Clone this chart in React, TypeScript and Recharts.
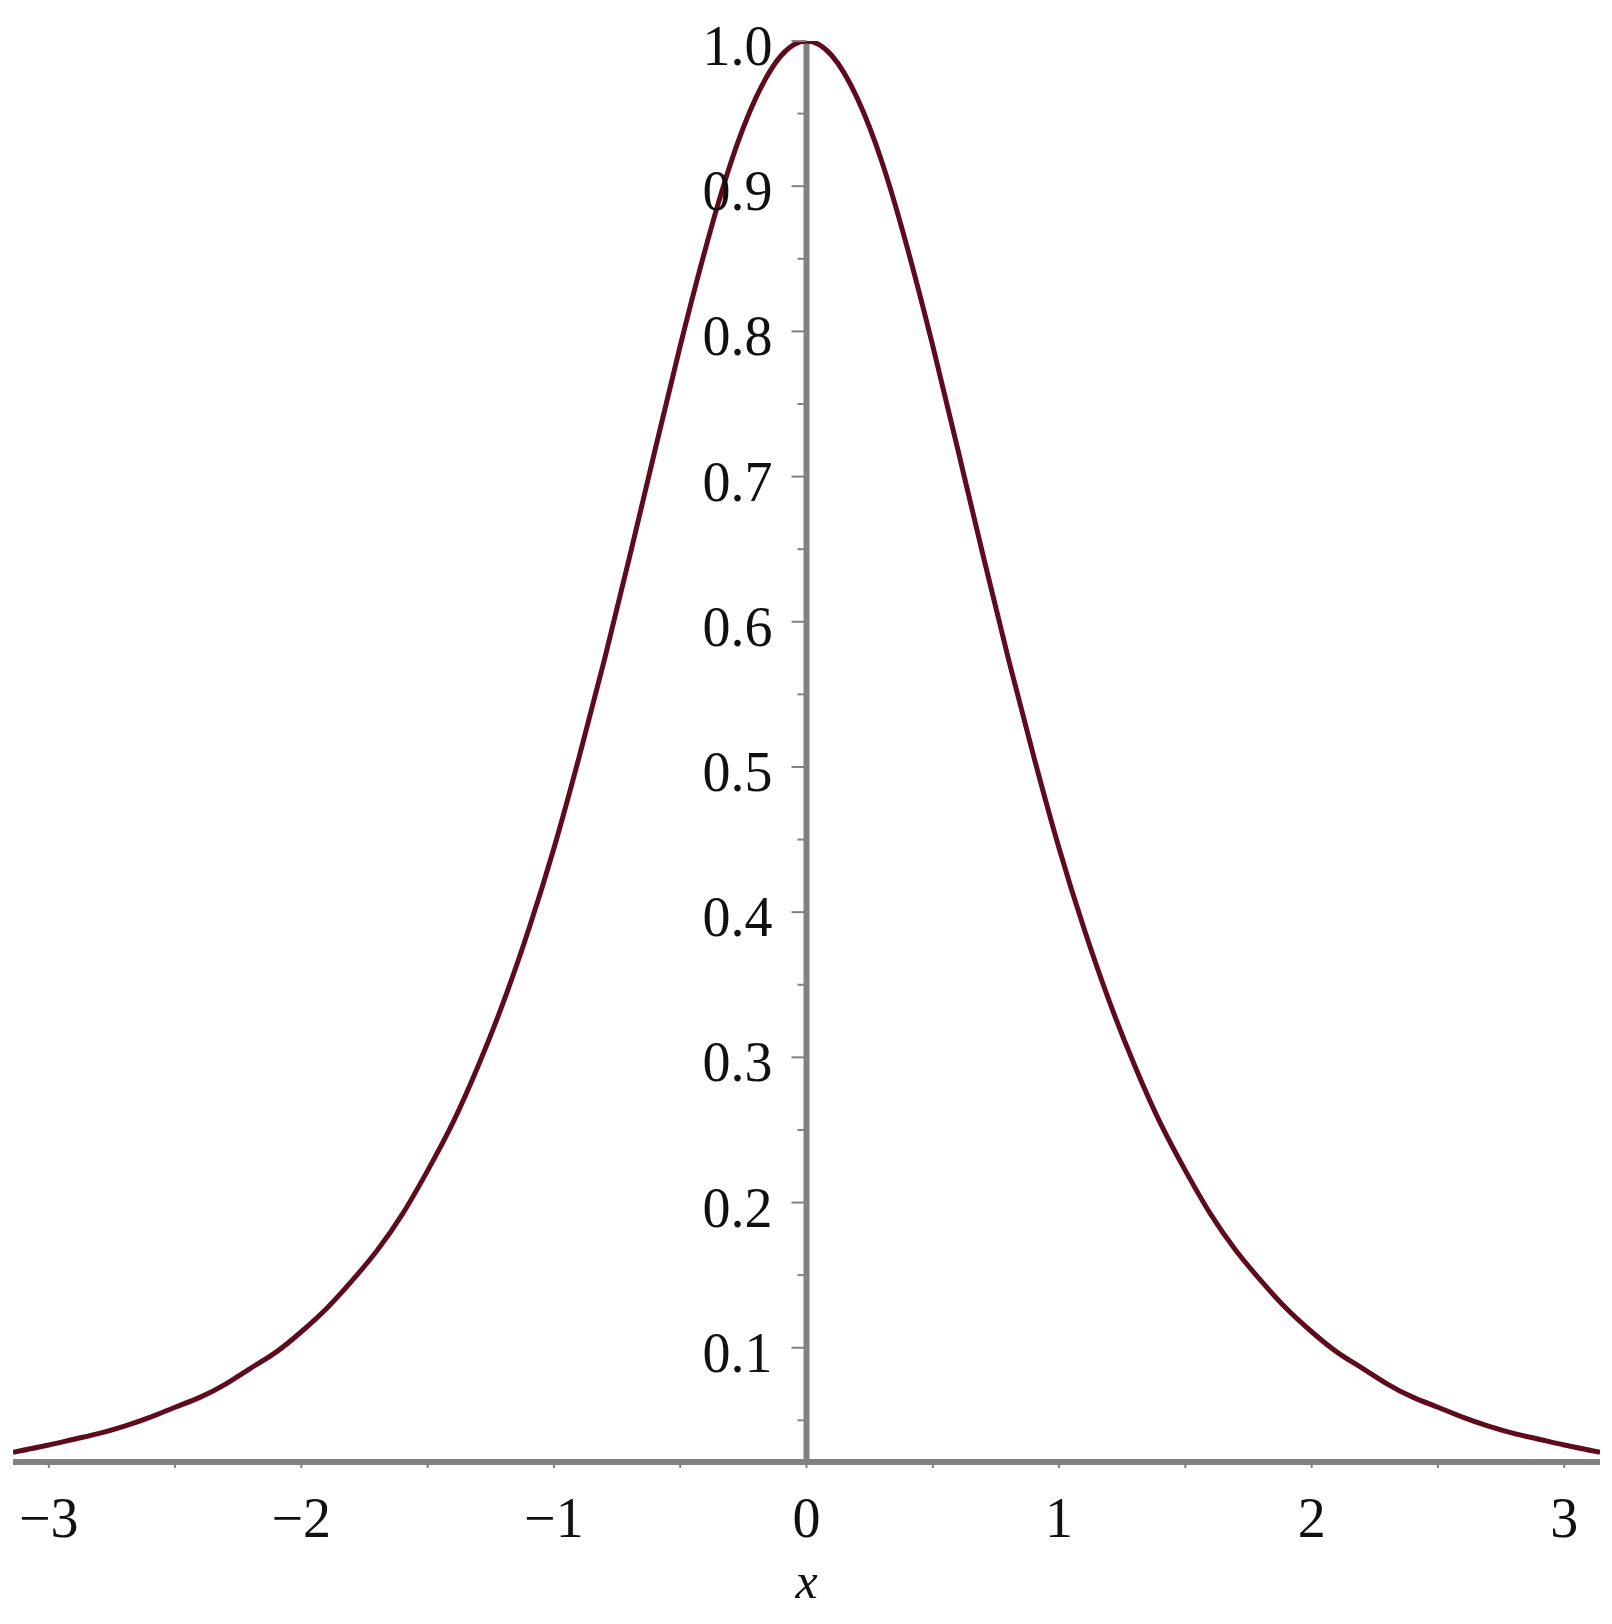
import React from "react";
import { LineChart, Line, XAxis, YAxis, ReferenceLine, Label } from "recharts";

// ---- data ----
const xValues = [
  -3.1416, -3.0, -2.9, -2.8, -2.7, -2.6, -2.5, -2.4, -2.3, -2.2, -2.1, -2.0, -1.9, -1.8, -1.7, -1.6,
  -1.5, -1.4, -1.3, -1.2, -1.1, -1.0, -0.9, -0.8, -0.7, -0.6, -0.5, -0.4, -0.3, -0.2, -0.1,
  0.0,
  0.1, 0.2, 0.3, 0.4, 0.5, 0.6, 0.7, 0.8, 0.9, 1.0, 1.1, 1.2, 1.3, 1.4, 1.5,
  1.6, 1.7, 1.8, 1.9, 2.0, 2.1, 2.2, 2.3, 2.4, 2.5, 2.6, 2.7, 2.8, 2.9, 3.0, 3.1416,
];
const yValues = [
  0.028, 0.033, 0.037, 0.041, 0.046, 0.052, 0.059, 0.066, 0.075, 0.086, 0.097, 0.111, 0.127, 0.146, 0.167, 0.192,
  0.222, 0.255, 0.294, 0.338, 0.388, 0.444, 0.507, 0.574, 0.645, 0.718, 0.790, 0.857, 0.916, 0.961, 0.990,
  1.0,
  0.990, 0.961, 0.916, 0.857, 0.790, 0.718, 0.645, 0.574, 0.507, 0.444, 0.388, 0.338, 0.294, 0.255, 0.222,
  0.192, 0.167, 0.146, 0.127, 0.111, 0.097, 0.086, 0.075, 0.066, 0.059, 0.052, 0.046, 0.041, 0.037, 0.033, 0.028,
];
const xTicks = [-3, -2.5, -2, -1.5, -1, -0.5, 0, 0.5, 1, 1.5, 2, 2.5, 3];
const xTickLabels: Record<string, string> = {
  "-3": "\u22123", "-2": "\u22122", "-1": "\u22121", "0": "0", "1": "1", "2": "2", "3": "3",
};
const yTicks = [0.05, 0.1, 0.15, 0.2, 0.25, 0.3, 0.35, 0.4, 0.45, 0.5, 0.55, 0.6, 0.65, 0.7, 0.75, 0.8, 0.85, 0.9, 0.95, 1.0];
const yTickLabels: Record<string, string> = {
  "0.1": "0.1", "0.2": "0.2", "0.3": "0.3", "0.4": "0.4", "0.5": "0.5",
  "0.6": "0.6", "0.7": "0.7", "0.8": "0.8", "0.9": "0.9", "1": "1.0",
};
const xDomain: [number, number] = [-Math.PI, Math.PI];
const yDomain: [number, number] = [0.0213, 1.0];

const data = xValues.map((x, i) => ({ x, y: yValues[i] }));

// ---- layout ----
const W = 1612;
const H = 1624;
const X_AXIS_H = 160;
const Y_AXIS_W = 1;
const MARGIN = { top: 41, right: 12, bottom: 2, left: 12 };
const PLOT_LEFT = MARGIN.left + Y_AXIS_W;
const PLOT_W = W - PLOT_LEFT - MARGIN.right;
const CENTER_X = PLOT_LEFT + PLOT_W / 2;
const AXIS_GRAY = "#808080";
const TEXT = "#111111";
const FONT = "'Liberation Serif', 'DejaVu Serif', serif";

const YTick = (props: any) => {
  const { y, payload } = props;
  const key = String(payload.value);
  const label = yTickLabels[key];
  const major = label !== undefined;
  return (
    <g>
      <line x1={CENTER_X - (major ? 15 : 9)} x2={CENTER_X} y1={y} y2={y} stroke={AXIS_GRAY} strokeWidth={2} />
      {major && (
        <text x={CENTER_X - 34} y={y + 24} textAnchor="end" fontFamily={FONT} fontSize={56} fill={TEXT}>
          {label}
        </text>
      )}
    </g>
  );
};

const XTick = (props: any) => {
  const { x, y, payload } = props;
  const key = String(payload.value);
  const label = xTickLabels[key];
  return (
    <g>
      <line x1={x} x2={x} y1={y} y2={y + 6} stroke={AXIS_GRAY} strokeWidth={2} />
      {label !== undefined && (
        <text x={x} y={y + 75} textAnchor="middle" fontFamily={FONT} fontSize={56} fill={TEXT}>
          {label}
        </text>
      )}
    </g>
  );
};

export default function App() {
  return (
    <div style={{ position: "absolute", left: 0, top: 0, width: W, height: H, background: "#ffffff" }}>
      <LineChart width={W} height={H} data={data} margin={MARGIN}>
        <XAxis
          dataKey="x"
          type="number"
          domain={xDomain}
          allowDataOverflow
          ticks={xTicks}
          interval={0}
          height={X_AXIS_H}
          tickSize={0}
          tickMargin={0}
          tick={<XTick />}
          tickLine={false}
          axisLine={{ stroke: AXIS_GRAY, strokeWidth: 6 }}
        >
          <Label
            content={(p: any) => {
              const vb = p.viewBox || { x: PLOT_LEFT, y: H - MARGIN.bottom - X_AXIS_H, width: PLOT_W };
              return (
                <text
                  x={vb.x + vb.width / 2}
                  y={vb.y + 136}
                  textAnchor="middle"
                  fontFamily={FONT}
                  fontStyle="italic"
                  fontSize={50}
                  fill={TEXT}
                >
                  x
                </text>
              );
            }}
          />
        </XAxis>
        <YAxis
          type="number"
          domain={yDomain}
          allowDataOverflow
          ticks={yTicks}
          interval={0}
          width={Y_AXIS_W}
          tickSize={0}
          tickMargin={0}
          tick={<YTick />}
          tickLine={false}
          axisLine={false}
        />
        <ReferenceLine x={0} stroke={AXIS_GRAY} strokeWidth={6} />
        <Line
          type="natural"
          dataKey="y"
          stroke="#5e0b1e"
          strokeWidth={5}
          dot={false}
          isAnimationActive={false}
        />
      </LineChart>
    </div>
  );
}
